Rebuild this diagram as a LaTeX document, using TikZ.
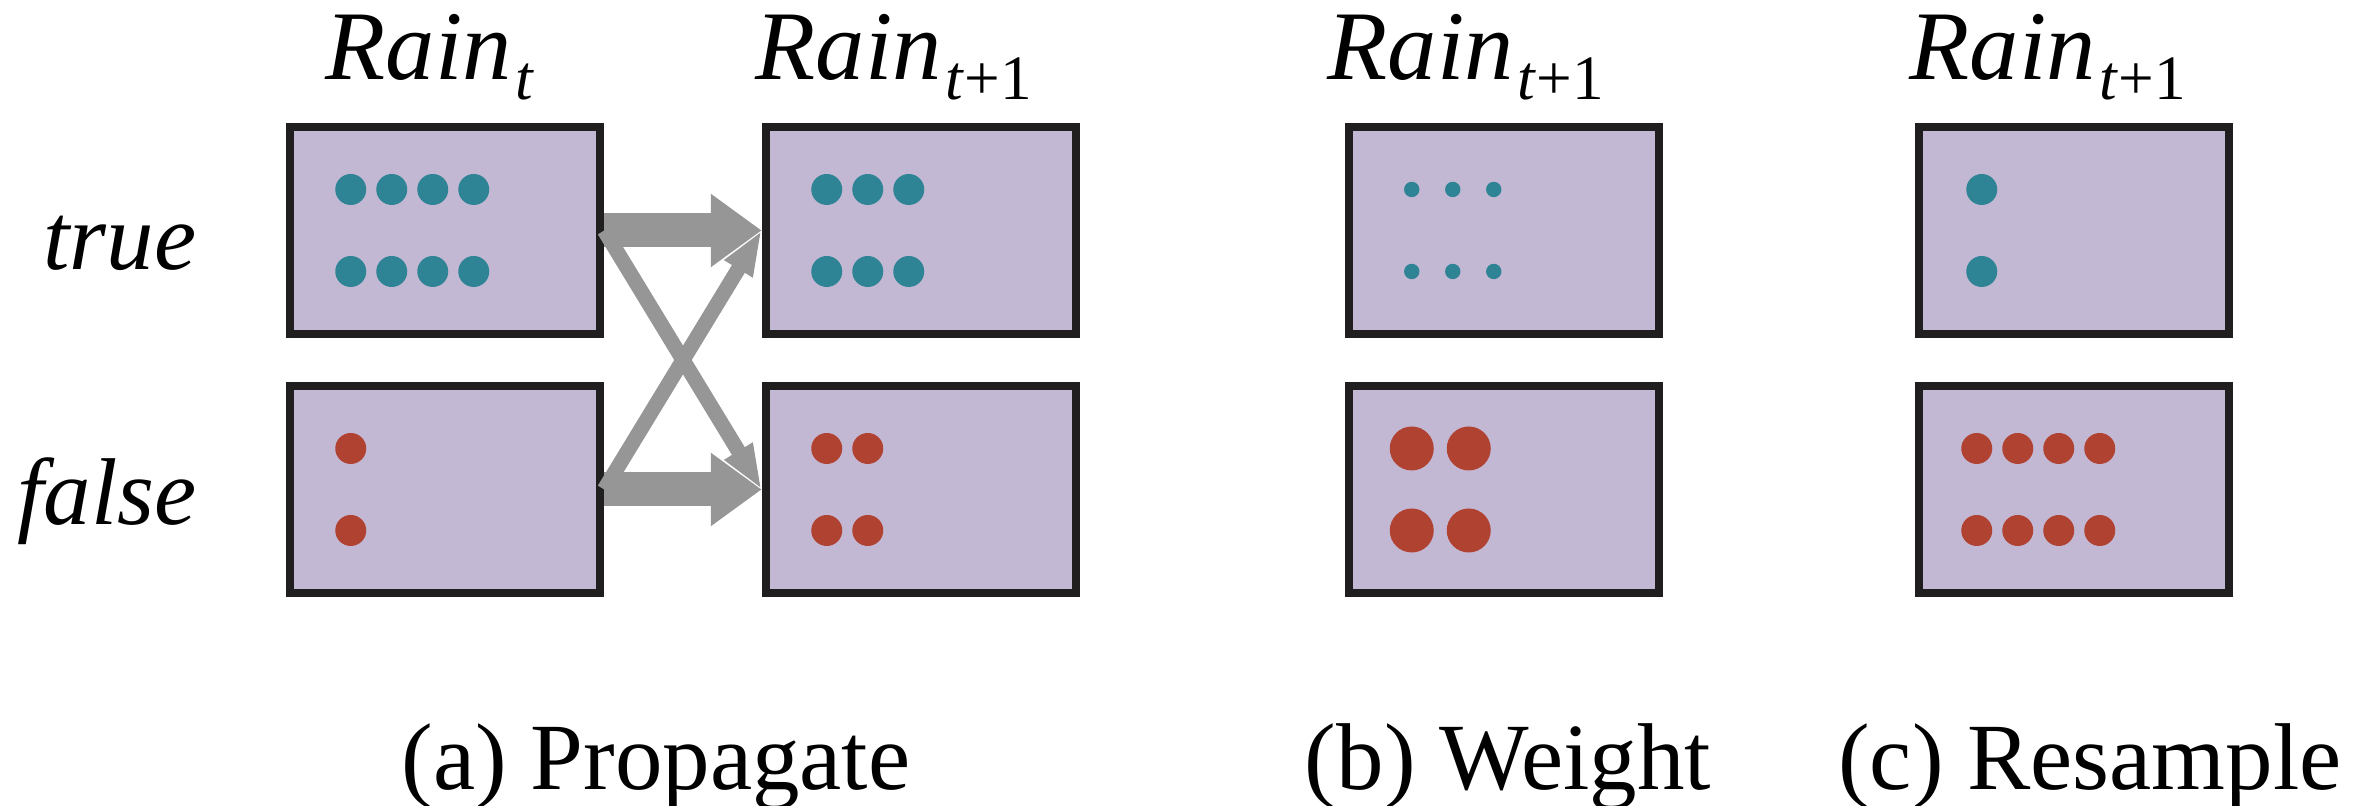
\documentclass[tikz,border=0pt]{standalone}
\usepackage{fontspec}
\setmainfont{Liberation Serif}
\usetikzlibrary{arrows.meta,calc}

\definecolor{lilas}{RGB}{195,184,211}
\definecolor{borda}{RGB}{32,30,30}
\definecolor{azul}{RGB}{46,131,148}
\definecolor{verm}{RGB}{176,66,50}
\definecolor{cinza}{RGB}{150,150,150}

\newcommand{\rainlbl}[1]{\textit{Rain}\kern0.04cm\raisebox{-0.2cm}{\fontsize{18}{18}\selectfont #1}}

\tikzset{
    caixa/.style={draw=borda, fill=lilas, line width=0.085cm, minimum width=3.10cm, minimum height=2.07cm, inner sep=0pt},
    setagrossa/.style={draw=cinza, line width=0.34cm, -{Triangle[width=0.70cm,length=0.51cm]}},
    setafina/.style={draw=cinza, line width=0.15cm, -{Triangle[width=0.30cm,length=0.45cm]}},
    rotulo/.style={font=\fontsize{27}{30}\selectfont, inner sep=0pt},
    titulo/.style={font=\fontsize{28}{30}\selectfont, inner sep=0pt, anchor=base west}
}

\begin{document}
\begin{tikzpicture}
        \useasboundingbox (0,0) rectangle (23.66,8.06);

        % Caixas
        \node[caixa] (At) at (4.45,5.755) {};
        \node[caixa] (Af) at (4.45,3.165) {};
        \node[caixa] (Bt) at (9.21,5.755) {};
        \node[caixa] (Bf) at (9.21,3.165) {};
        \node[caixa] (Ct) at (15.04,5.755) {};
        \node[caixa] (Cf) at (15.04,3.165) {};
        \node[caixa] (Dt) at (20.74,5.755) {};
        \node[caixa] (Df) at (20.74,3.165) {};

        % Raios
        \def\rP{0.155}
        \def\rS{0.077}
        \def\rG{0.22}

        % Pontos (a)
        \foreach \i in {0,...,3} {
            \fill[azul] ($(At.west)+(0.65+0.41*\i,0.41)$) circle (\rP);
            \fill[azul] ($(At.west)+(0.65+0.41*\i,-0.41)$) circle (\rP);
        }
        \fill[verm] ($(Af.west)+(0.65,0.41)$) circle (\rP);
        \fill[verm] ($(Af.west)+(0.65,-0.41)$) circle (\rP);
        \foreach \i in {0,...,2} {
            \fill[azul] ($(Bt.west)+(0.65+0.41*\i,0.41)$) circle (\rP);
            \fill[azul] ($(Bt.west)+(0.65+0.41*\i,-0.41)$) circle (\rP);
        }
        \foreach \i in {0,1} {
            \fill[verm] ($(Bf.west)+(0.65+0.41*\i,0.41)$) circle (\rP);
            \fill[verm] ($(Bf.west)+(0.65+0.41*\i,-0.41)$) circle (\rP);
        }

        % Pontos (b)
        \foreach \i in {0,...,2} {
            \fill[azul] ($(Ct.west)+(0.67+0.41*\i,0.41)$) circle (\rS);
            \fill[azul] ($(Ct.west)+(0.67+0.41*\i,-0.41)$) circle (\rS);
        }
        \foreach \i in {0,1} {
            \fill[verm] ($(Cf.west)+(0.67+0.57*\i,0.41)$) circle (\rG);
            \fill[verm] ($(Cf.west)+(0.67+0.57*\i,-0.41)$) circle (\rG);
        }

        % Pontos (c)
        \fill[azul] ($(Dt.west)+(0.67,0.41)$) circle (\rP);
        \fill[azul] ($(Dt.west)+(0.67,-0.41)$) circle (\rP);
        \foreach \i in {0,...,3} {
            \fill[verm] ($(Df.west)+(0.62+0.41*\i,0.41)$) circle (\rP);
            \fill[verm] ($(Df.west)+(0.62+0.41*\i,-0.41)$) circle (\rP);
        }

        % Setas
        \draw[setafina] (At.east) -- (Bf.west);
        \draw[setafina] (Af.east) -- (Bt.west);
        \draw[setagrossa] (At.east) -- (Bt.west);
        \draw[setagrossa] (Af.east) -- (Bf.west);

        % Titulos
        \node[titulo] (tA) at (3.25,7.26) {\rainlbl{\textit{t}}};
        \node[titulo] (tB) at (7.55,7.26) {\rainlbl{\textit{t}+1}};
        \node[titulo] (tC) at (13.27,7.26) {\rainlbl{\textit{t}+1}};
        \node[titulo] (tD) at (19.09,7.26) {\rainlbl{\textit{t}+1}};

        % Valores
        \node[rotulo, anchor=base] (vT) at (1.20,5.36) {\textit{true}};
        \node[rotulo, anchor=base] (vF) at (1.07,2.81) {\textit{false}};

        % Legendas
        \node[rotulo, anchor=base] (lA) at (6.56,0.16) {(a) Propagate};
        \node[rotulo, anchor=base] (lB) at (15.08,0.16) {(b) Weight};
        \node[rotulo, anchor=base] (lC) at (20.90,0.16) {(c) Resample};
    \end{tikzpicture}
\end{document}
